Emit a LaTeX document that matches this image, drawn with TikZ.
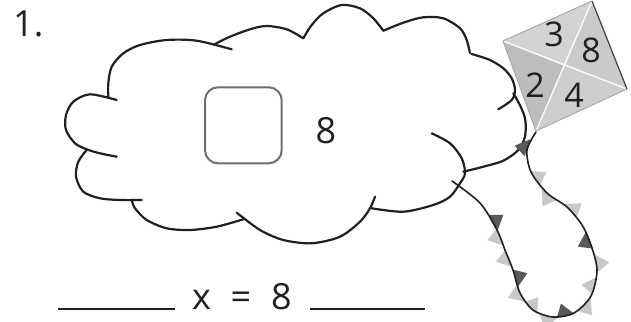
\documentclass[tikz,border=0pt]{standalone}
\usepackage{fontspec}
\setmainfont{Open Sans}
\usetikzlibrary{decorations.markings}
\definecolor{ink}{HTML}{231F20}
\definecolor{boxg}{HTML}{6D6E71}
\definecolor{dkg}{HTML}{58595B}
\definecolor{ltg}{HTML}{C7C8CA}
\definecolor{kqa}{HTML}{D2D3D4}
\definecolor{kqb}{HTML}{C9CACB}
\definecolor{kqc}{HTML}{BCBDBF}
\definecolor{kqd}{HTML}{CDCECF}
\definecolor{kedge}{HTML}{A7A9AC}
\newcommand\flagL[1]{\fill[#1] (-9pt,0pt) -- (9pt,0pt) -- (2pt,13pt) -- cycle;}
\newcommand\flagR[1]{\fill[#1] (-9pt,0pt) -- (9pt,0pt) -- (2pt,-13pt) -- cycle;}
\begin{document}
\begin{tikzpicture}[x=1pt,y=-1pt,
  cl/.style={draw=ink, line width=2.2pt, line cap=round},
  strg/.style={draw=ink, line width=1.6pt, line cap=round},
  blank/.style={draw=ink, line width=1.4pt},
  big/.style={font=\fontsize{36}{40}\selectfont, text=ink, inner sep=0pt},
  kd/.style={font=\fontsize{34}{38}\selectfont, text=ink, inner sep=0pt, anchor=base}]
\useasboundingbox (0,0) rectangle (631,321);
% label
\node[big, anchor=base west] (num) at (13,37) {1.};
% cloud
\draw[cl] plot[smooth] coordinates {(116.7,100) (90,94.3) (73.3,101.7) (66,115) (66,130) (75,143.3) (86.7,149.3) (100,153.3) (116.7,156.7)};
\draw[cl] plot[smooth] coordinates {(108.3,96.7) (108.3,83.3) (111.7,66.7) (123.3,53.3) (140,45) (166.7,40) (196.7,40.7) (231.7,49.3)};
\draw[cl] plot[smooth] coordinates {(215,44) (230,36.7) (250,29.3) (266.7,26) (286.7,29.3) (303.3,38.3)};
\draw[cl] plot[smooth] coordinates {(303.3,38.3) (311.7,25) (323.3,13.3) (341.7,5) (360,8.3) (373.3,18.3) (383.3,30.7)};
\draw[cl] plot[smooth] coordinates {(383.3,30.7) (403.3,22.7) (423.3,17.3) (443.3,18.3) (460,28.3) (466.7,40) (470,53.3)};
\draw[cl] plot[smooth] coordinates {(471.7,54) (490,60) (503.3,68.3) (511.7,78.3) (515,90) (511.7,100) (498.3,109.3)};
\draw[cl] plot[smooth] coordinates {(513.3,93.3) (520.7,106.7) (525.3,120) (525,136.7) (518.3,150) (503.3,160.7) (483.3,166.7) (463.3,171.7)};
\draw[cl] plot[smooth] coordinates {(431.7,133.3) (450,143.3) (461.7,158.3) (465,173.3) (460,183.3) (450,196.7) (433.3,205) (403.3,211.7) (371.7,208.3)};
\draw[cl] plot[smooth] coordinates {(375,196.7) (370,208.3) (360,221.7) (340,236.7) (311.7,243.3) (283.3,240) (260,230) (236.7,212.7)};
\draw[cl] plot[smooth] coordinates {(131.7,200) (135,208.3) (146.7,220) (166.7,228.3) (190,230) (216.7,226.7) (243.3,219.3)};
\draw[cl] plot[smooth] coordinates {(86.7,150) (78.3,161.7) (76,176.7) (83.3,191.7) (100,198.3) (120,200) (141.7,200)};
% box and number
\draw[draw=boxg, line width=2pt, rounded corners=13pt] (205,87.3) rectangle (281.7,163.3);
\node[big, anchor=base] (eight) at (326,143) {8};
% kite string with flags
\draw[strg, preaction={decorate, decoration={markings,
   mark=at position 18pt with {\flagR{dkg}},
   mark=at position 50pt with {\flagL{ltg}},
   mark=at position 72pt with {\flagR{ltg}},
   mark=at position 99pt with {\flagL{ltg}},
   mark=at position 134pt with {\flagR{dkg}},
   mark=at position 158pt with {\flagL{ltg}},
   mark=at position 181pt with {\flagR{ltg}},
   mark=at position 203pt with {\flagL{ltg}},
   mark=at position 225pt with {\flagR{dkg}},
   mark=at position 242pt with {\flagL{ltg}},
   mark=at position 262pt with {\flagR{ltg}},
   mark=at position 280pt with {\flagL{ltg}},
   mark=at position 296pt with {\flagR{dkg}},
   mark=at position 317pt with {\flagL{ltg}},
   mark=at position 340pt with {\flagL{ltg}},
   mark=at position 356pt with {\flagR{dkg}}}}]
  plot[smooth] coordinates {(536,132) (527,150) (531,172) (547,193) (567,207) (582,225) (591,245) (597,270) (591,296) (574,313) (553,317) (533,310) (520,293) (513,270) (505,250) (497,230) (480,203) (452,181)};
% kite
\coordinate (kt) at (592,1);
\coordinate (kl) at (503,41);
\coordinate (kr) at (627,89);
\coordinate (kb) at (536,131);
\coordinate (kc) at (564,66);
\fill[kqa] (kt) -- (kl) -- (kc) -- cycle;
\fill[kqb] (kt) -- (kr) -- (kc) -- cycle;
\fill[kqc] (kl) -- (kb) -- (kc) -- cycle;
\fill[kqd] (kr) -- (kb) -- (kc) -- cycle;
\draw[white, line width=1.3pt] (kt) -- (kb) (kl) -- (kr);
\draw[kedge, line width=1pt, line join=round] (kr) -- (kb) -- (kl) -- (kt);
\draw[ink!85, line width=1.2pt] (kt) -- (kr);
\node[kd] (k3) at (554,46.7) {3};
\node[kd] (k8) at (591,63) {8};
\node[kd] (k2) at (535,97) {2};
\node[kd] (k4) at (574,107) {4};
% equation
\draw[blank] (58,309) -- (175,309);
\draw[blank] (310,309) -- (425,309);
\node[big, anchor=base] (vx) at (201.5,309) {x};
\node[big, anchor=base] (eq) at (241,309) {=};
\node[big, anchor=base] (v8) at (281.5,309) {8};
\end{tikzpicture}
\end{document}
